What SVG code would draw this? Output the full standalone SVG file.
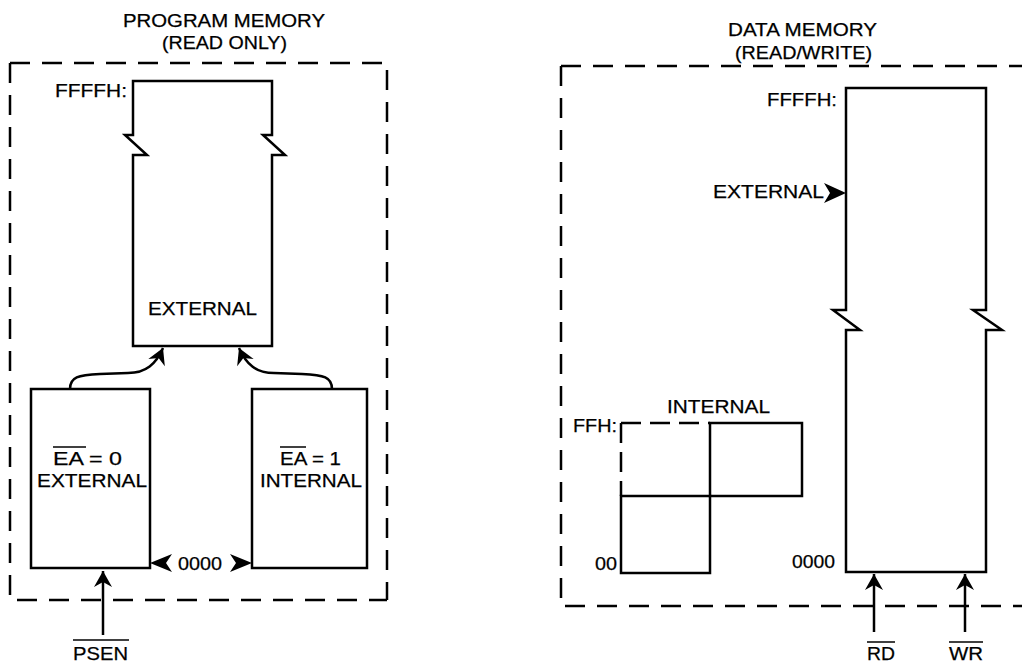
<svg xmlns="http://www.w3.org/2000/svg" width="1022" height="663" viewBox="0 0 1022 663">
<style>
text{font-family:"Liberation Sans",Arial,sans-serif;font-size:19px;fill:#000;stroke:#000;stroke-width:0.25}
.t{font-size:18px}
.box{fill:none;stroke:#000;stroke-width:2.5}
.dash{fill:none;stroke:#000;stroke-width:2.5;stroke-dasharray:20 12}
.dash2{fill:none;stroke:#000;stroke-width:2.5;stroke-dasharray:20 9}
.wire{fill:none;stroke:#000;stroke-width:2.5}
.ov{stroke:#000;stroke-width:1.5}
.head{fill:#000;stroke:none}
</style>
<defs>
<marker id="ah" markerUnits="userSpaceOnUse" viewBox="-18 -10 19 20" refX="0" refY="0" markerWidth="19" markerHeight="20" orient="auto">
<path d="M0,0 L-16,-9 L-11,0 L-16,9 Z" fill="#000"/>
</marker>
</defs>

<g id="program-frame">
<path class="dash" d="M10,63 H387 V600"/>
<path class="dash" d="M10,63 V600 H387"/>
<text class="t" x="123" y="27" textLength="202" lengthAdjust="spacingAndGlyphs">PROGRAM MEMORY</text>
<text class="t" x="162" y="49" textLength="125" lengthAdjust="spacingAndGlyphs">(READ ONLY)</text>
</g>

<g id="prog-external">
<path class="box" d="M133,346 V155 H147 L125,135 H133 V81 H272 V135 H263 L285,155 H272 V346 Z"/>
<text x="55" y="97" textLength="72" lengthAdjust="spacingAndGlyphs">FFFFH:</text>
<text x="148" y="315" textLength="109" lengthAdjust="spacingAndGlyphs">EXTERNAL</text>
</g>

<g id="ea0">
<rect class="box" x="31" y="389" width="119" height="179"/>
<text x="53" y="465" textLength="69" lengthAdjust="spacingAndGlyphs">EA = 0</text>
<line class="ov" x1="53" y1="447" x2="86" y2="447"/>
<text x="37" y="487" textLength="110" lengthAdjust="spacingAndGlyphs">EXTERNAL</text>
</g>

<g id="ea1">
<rect class="box" x="252" y="389" width="115" height="179"/>
<text x="280" y="465" textLength="61" lengthAdjust="spacingAndGlyphs">EA = 1</text>
<line class="ov" x1="280" y1="447" x2="306" y2="447"/>
<text x="260" y="487" textLength="102" lengthAdjust="spacingAndGlyphs">INTERNAL</text>
</g>

<g id="data-frame">
<path class="dash" d="M561,66 H1030"/>
<path class="dash" d="M561,66 V606 H1030"/>
<text class="t" x="728" y="36" textLength="149" lengthAdjust="spacingAndGlyphs">DATA MEMORY</text>
<text class="t" x="735" y="59" textLength="137" lengthAdjust="spacingAndGlyphs">(READ/WRITE)</text>
</g>

<g id="data-external">
<path class="box" d="M846,572 V330 H860 L833,310 H846 V88 H986 V310 H973 L1002,330 H986 V572 Z"/>
<text x="767" y="106" textLength="70" lengthAdjust="spacingAndGlyphs">FFFFH:</text>
<text x="713" y="198" textLength="111" lengthAdjust="spacingAndGlyphs">EXTERNAL</text>
<text x="792" y="568" textLength="43" lengthAdjust="spacingAndGlyphs">0000</text>
</g>

<g id="data-internal">
<path class="dash2" d="M621,423 H710"/>
<path class="dash2" d="M621,423 V496"/>
<rect class="box" x="710" y="423" width="92" height="73"/>
<rect class="box" x="621" y="496" width="89" height="77"/>
<text x="667" y="413" textLength="103" lengthAdjust="spacingAndGlyphs">INTERNAL</text>
<text x="573" y="432" textLength="44" lengthAdjust="spacingAndGlyphs">FFH:</text>
<text x="595" y="570" textLength="22" lengthAdjust="spacingAndGlyphs">00</text>
</g>

<g id="connectors">
<path class="wire" d="M70,389 C70,377 78,375 100,374 L128,373 C146,373 156,364 163,348" marker-end="url(#ah)"/>
<path class="wire" d="M332,389 C332,377 324,375 302,374 L274,373 C256,373 246,364 239,348" marker-end="url(#ah)"/>
<line class="wire" x1="103" y1="635" x2="103" y2="571" marker-end="url(#ah)"/>
<line class="wire" x1="874" y1="632" x2="874" y2="574" marker-end="url(#ah)"/>
<line class="wire" x1="965" y1="632" x2="965" y2="574" marker-end="url(#ah)"/>
<path class="head" d="M150,563 L172,554 L166,563 L172,572 Z"/>
<path class="head" d="M252,563 L230,554 L236,563 L230,572 Z"/>
<text x="178" y="570" textLength="44" lengthAdjust="spacingAndGlyphs">0000</text>
<path class="head" d="M846,193 L824,183 L830,193 L824,203 Z"/>
<text x="73" y="660" textLength="55" lengthAdjust="spacingAndGlyphs">PSEN</text>
<line class="ov" x1="73" y1="640" x2="129" y2="640"/>
<text x="867" y="660" textLength="28" lengthAdjust="spacingAndGlyphs">RD</text>
<line class="ov" x1="867" y1="642" x2="895" y2="642"/>
<text x="949" y="660" textLength="34" lengthAdjust="spacingAndGlyphs">WR</text>
<line class="ov" x1="949" y1="642" x2="983" y2="642"/>
</g>
</svg>
